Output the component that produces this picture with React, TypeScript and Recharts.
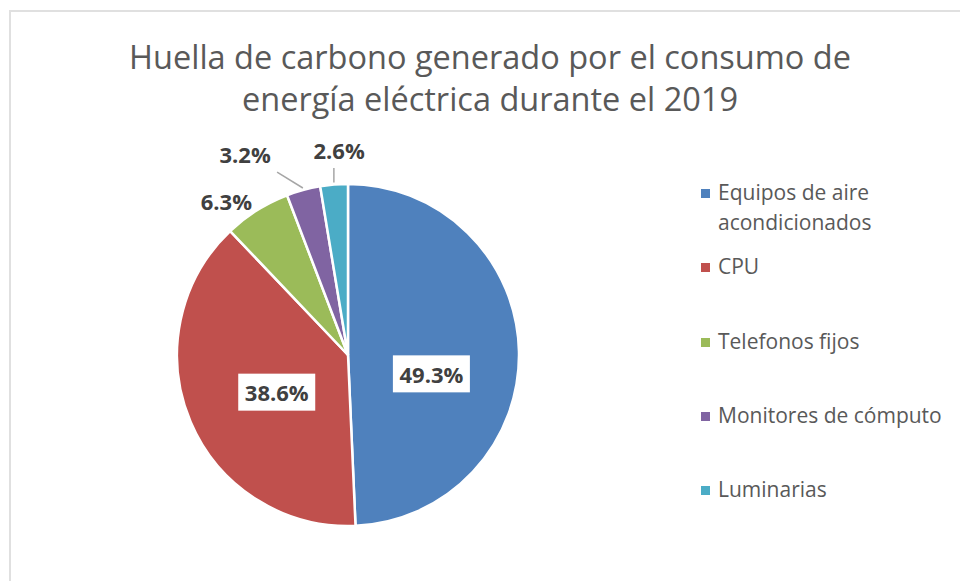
import React from "react";
import { PieChart, Pie, Cell, Legend } from "recharts";

const categories = [
  "Equipos de aire acondicionados",
  "CPU",
  "Telefonos fijos",
  "Monitores de cómputo",
  "Luminarias",
];
const shares = [49.3, 38.6, 6.3, 3.2, 2.6];
const colors = ["#4F81BD", "#C0504D", "#9BBB59", "#8064A2", "#4BACC6"];
const titleLines = [
  "Huella de carbono generado por el consumo de",
  "energía eléctrica durante el 2019",
];

const data = categories.map((name, i) => ({ name, value: shares[i] }));

const FONT = "'Open Sans', 'Noto Sans', sans-serif";
const TEXT = "#595959";
const RAD = Math.PI / 180;

// where each data label sits: fraction of the radius, angle nudge (deg), inside box, leader line
const labelLayout = [
  { r: 0.5, nudge: -14, inside: true, leader: false },
  { r: 0.47, nudge: 4.5, inside: true, leader: false },
  { r: 1.15, nudge: 6, inside: false, leader: false },
  { r: 1.32, nudge: 12, inside: false, leader: true },
  { r: 1.2, nudge: -2.2, inside: false, leader: true },
];

function renderLabel(props: any) {
  const { cx, cy, midAngle, outerRadius, percent, index } = props;
  const lay = labelLayout[index];
  const ang = (midAngle + lay.nudge) * RAD;
  const x = cx + outerRadius * lay.r * Math.cos(ang);
  const y = cy - outerRadius * lay.r * Math.sin(ang);
  const txt = (percent * 100).toFixed(1) + "%";
  const w = 77;
  const h = 37;
  let line = null;
  if (lay.leader) {
    const ex = cx + (outerRadius + 2) * Math.cos(midAngle * RAD);
    const ey = cy - (outerRadius + 2) * Math.sin(midAngle * RAD);
    const bx0 = x - 32, bx1 = x + 32, by0 = y - 18, by1 = y + 18;
    const sx = Math.min(Math.max(ex, bx0), bx1);
    const sy = Math.min(Math.max(ey, by0), by1);
    line = <line x1={sx} y1={sy} x2={ex} y2={ey} stroke="#A6A6A6" strokeWidth={1.5} />;
  }
  return (
    <g key={"lbl" + index}>
      {line}
      {lay.inside && (
        <rect x={x - w / 2} y={y - h / 2} width={w} height={h} fill="#FFFFFF" />
      )}
      <text
        x={x}
        y={y}
        textAnchor="middle"
        dominantBaseline="central"
        fill="#404040"
        fontFamily={FONT}
        fontWeight={700}
        fontSize={22}
      >
        {txt}
      </text>
    </g>
  );
}

function LegendContent() {
  return (
    <div style={{ fontFamily: FONT, fontSize: 21, color: TEXT }}>
      {categories.map((name, i) => (
        <div key={name} style={{ display: "flex", alignItems: "flex-start", height: 74.25 }}>
          <div
            style={{
              width: 9,
              height: 9,
              marginTop: 12,
              background: colors[i],
              flex: "0 0 auto",
            }}
          />
          <div style={{ marginLeft: 8, lineHeight: "30px", width: 235 }}>{name}</div>
        </div>
      ))}
    </div>
  );
}

export default function App() {
  return (
    <div
      style={{
        position: "absolute",
        left: 0,
        top: 0,
        width: 960,
        height: 581,
        overflow: "hidden",
        background: "#FFFFFF",
      }}
    >
      <div
        style={{
          position: "absolute",
          left: 9,
          top: 10,
          width: 1000,
          height: 1000,
          border: "2px solid #E0E0E0",
        }}
      />
      <div
        style={{
          position: "absolute",
          left: 0,
          top: 36,
          width: 980,
          textAlign: "center",
          fontFamily: FONT,
          fontSize: 32.5,
          lineHeight: "42px",
          color: TEXT,
        }}
      >
        {titleLines.map((t) => (
          <div key={t}>{t}</div>
        ))}
      </div>
      <div style={{ position: "absolute", left: 0, top: 0 }}>
        <PieChart width={960} height={581} margin={{ top: 0, right: 0, bottom: 0, left: 0 }}>
          <Pie
            data={data}
            dataKey="value"
            nameKey="name"
            cx={348}
            cy={355}
            outerRadius={171}
            startAngle={90}
            endAngle={-270}
            stroke="#FFFFFF"
            strokeWidth={2.5}
            label={renderLabel}
            labelLine={false}
            isAnimationActive={false}
          >
            {data.map((d, i) => (
              <Cell key={d.name} fill={colors[i]} />
            ))}
          </Pie>
          <Legend
            layout="vertical"
            align="right"
            verticalAlign="top"
            content={<LegendContent />}
            wrapperStyle={{ left: 701, top: 177, width: 259 }}
          />
        </PieChart>
      </div>
    </div>
  );
}
